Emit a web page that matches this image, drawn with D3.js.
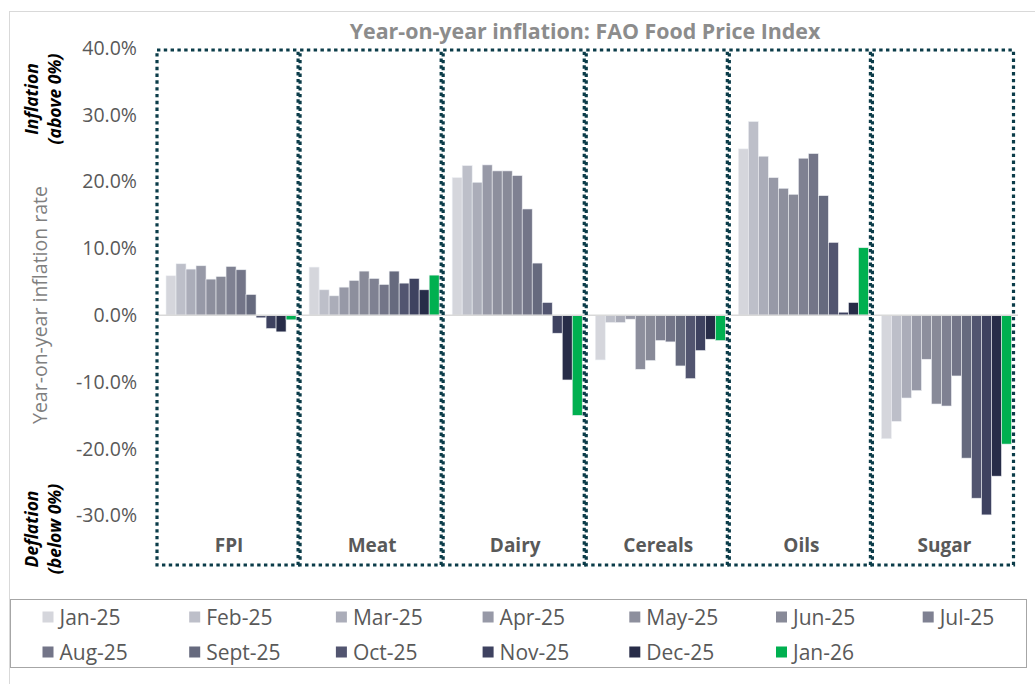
<!DOCTYPE html>
<html>
<head>
<meta charset="utf-8">
<script src="https://cdn.jsdelivr.net/npm/d3@7"></script>
<style>
  body { margin: 0; background: #fff; }
  svg { font-family: "Open Sans", sans-serif; }
</style>
</head>
<body>
<svg id="chart" width="1035" height="684"></svg>
<script>
// categories and months
const categories = ["FPI", "Meat", "Dairy", "Cereals", "Oils", "Sugar"];
const months = ["Jan-25", "Feb-25", "Mar-25", "Apr-25", "May-25", "Jun-25", "Jul-25",
                "Aug-25", "Sept-25", "Oct-25", "Nov-25", "Dec-25", "Jan-26"];
const monthColors = ["#d5d6dc", "#bdbfc9", "#abadb9", "#9799a7", "#8d8f9d", "#888a98", "#7f8192",
                     "#737588", "#666a7e", "#525570", "#3e4260", "#272c48", "#00b050"];

// year-on-year inflation (%) per category, Jan-25 .. Jan-26
const fpi     = [5.9, 7.7, 6.9, 7.4, 5.4, 5.8, 7.3, 6.8, 3.1, -0.4, -2.0, -2.5, -0.7];
const meat    = [7.2, 3.8, 2.9, 4.2, 5.2, 6.6, 5.5, 4.6, 6.6, 4.8, 5.5, 3.8, 6.0];
const dairy   = [20.6, 22.4, 19.9, 22.5, 21.6, 21.6, 20.9, 15.9, 7.8, 1.9, -2.7, -9.7, -15.0];
const cereals = [-6.7, -1.1, -1.1, -0.6, -8.1, -6.8, -3.8, -4.0, -7.6, -9.5, -5.3, -3.6, -3.8];
const oils    = [24.9, 29.0, 23.8, 20.6, 19.0, 18.1, 23.5, 24.2, 17.9, 10.9, 0.45, 1.9, 10.1];
const sugar   = [-18.5, -15.9, -12.4, -11.3, -6.6, -13.3, -13.6, -9.1, -21.4, -27.4, -29.9, -24.1, -19.3];
const seriesByCat = [fpi, meat, dairy, cereals, oils, sugar];

const yTicks = [-30, -20, -10, 0, 10, 20, 30, 40];

const svg = d3.select("#chart");

// outer chart frame
svg.append("rect")
    .attr("x", 9.5).attr("y", 11.5)
    .attr("width", 1040).attr("height", 700)
    .attr("fill", "none").attr("stroke", "#d9d9d9");

const x0 = d3.scaleBand().domain(categories).range([159.5, 1018]);
const x1 = d3.scaleBand().domain(months).range([0, x0.bandwidth()]).paddingOuter(0.65);
const y = d3.scaleLinear().domain([-37.4, 40]).range([565, 48]);

// title
svg.append("text")
    .attr("x", 585).attr("y", 39)
    .attr("text-anchor", "middle")
    .attr("font-size", 21.4).attr("font-weight", "bold")
    .attr("fill", "#8c8c8c")
    .text("Year-on-year inflation: FAO Food Price Index");

// y axis labels
const yAxis = svg.append("g")
    .attr("transform", "translate(140,0)")
    .call(d3.axisLeft(y).tickValues(yTicks).tickSize(0)
        .tickFormat(d => d.toFixed(1) + "%"));
yAxis.select(".domain").remove();
yAxis.selectAll("text")
    .attr("font-family", "Open Sans, sans-serif")
    .attr("font-size", 19.5)
    .attr("fill", "#595959");

svg.append("text")
    .attr("transform", "translate(47,305) rotate(-90)")
    .attr("text-anchor", "middle")
    .attr("font-size", 19.5)
    .attr("fill", "#7f7f7f")
    .text("Year-on-year inflation rate");

// side notes
function sideNote(cy, lines) {
    lines.forEach((t, i) => {
        svg.append("text")
            .attr("transform", `translate(${38 + i * 23},${cy}) rotate(-90)`)
            .attr("text-anchor", "middle")
            .attr("font-size", 17.5).attr("font-weight", "bold").attr("font-style", "italic")
            .attr("fill", "#000")
            .text(t);
    });
}
sideNote(99, ["Inflation", "(above 0%)"]);
sideNote(529, ["Deflation", "(below 0%)"]);

// bars
const groups = svg.selectAll(".cat")
    .data(categories)
    .join("g")
    .attr("class", "cat")
    .attr("transform", d => `translate(${x0(d)},0)`);

groups.selectAll("rect")
    .data((d, i) => seriesByCat[i].map((v, j) => ({ month: months[j], value: v, color: monthColors[j] })))
    .join("rect")
    .attr("x", d => x1(d.month))
    .attr("y", d => y(Math.max(0, d.value)))
    .attr("width", x1.bandwidth())
    .attr("height", d => Math.abs(y(d.value) - y(0)))
    .attr("fill", d => d.color)
    .attr("stroke", "#eef0f4")
    .attr("stroke-width", 0.6);

// zero line
svg.append("line")
    .attr("x1", 157).attr("x2", 1018)
    .attr("y1", y(0)).attr("y2", y(0))
    .attr("stroke", "#d9d9d9").attr("stroke-width", 1.5);

// dotted boxes per category
svg.selectAll(".box")
    .data(categories)
    .join("rect")
    .attr("class", "box")
    .attr("x", d => x0(d) - 2.5)
    .attr("y", y(40) + 2)
    .attr("width", x0.bandwidth() - 2)
    .attr("height", y(-37.4) - y(40) - 2)
    .attr("fill", "none")
    .attr("stroke", "#0b3c49")
    .attr("stroke-width", 3.2)
    .attr("stroke-dasharray", "3.4,3.4");

// category labels
svg.selectAll(".catlabel")
    .data(categories)
    .join("text")
    .attr("class", "catlabel")
    .attr("x", d => x0(d) + x0.bandwidth() / 2 - 2)
    .attr("y", 552)
    .attr("text-anchor", "middle")
    .attr("font-size", 19).attr("font-weight", "bold")
    .attr("fill", "#595959")
    .text(d => d);

// legend
svg.append("rect")
    .attr("x", 10.5).attr("y", 599.5)
    .attr("width", 1016).attr("height", 68)
    .attr("fill", "#fff").attr("stroke", "#a6a6a6");

const legend = svg.selectAll(".leg")
    .data(months)
    .join("g")
    .attr("class", "leg")
    .attr("transform", (d, i) => `translate(${42.5 + (i % 7) * 146.7},${i < 7 ? 617 : 652})`);

legend.append("rect")
    .attr("x", 0).attr("y", -5.5)
    .attr("width", 11).attr("height", 11)
    .attr("fill", (d, i) => monthColors[i]);

legend.append("text")
    .attr("x", 17).attr("y", 7.5)
    .attr("font-size", 21)
    .attr("fill", "#595959")
    .text(d => d);
</script>
</body>
</html>
